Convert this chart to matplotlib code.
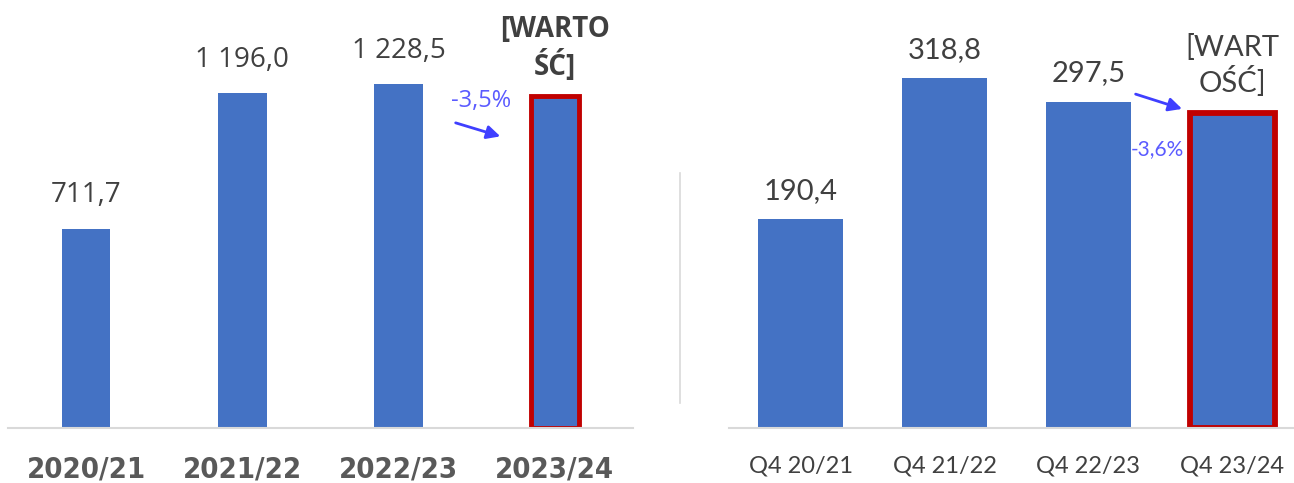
import matplotlib

matplotlib.use("Agg")
import matplotlib.pyplot as plt
from matplotlib.lines import Line2D

# annual values (left) and Q4 values (right)
years = ["2020/21", "2021/22", "2022/23", "2023/24"]
year_values = [711.7, 1196.0, 1228.5, 1185.5]
year_labels = ["711,7", "1 196,0", "1 228,5"]

quarters = ["Q4 20/21", "Q4 21/22", "Q4 22/23", "Q4 23/24"]
quarter_values = [190.4, 318.8, 297.5, 286.8]
quarter_labels = ["190,4", "318,8", "297,5"]

BLUE = "#4472C4"
RED = "#C00000"
GRID = "#d9d9d9"
TXT = "#404040"
ARROW = "#3F3FFF"
PCT = "#5B5BFF"

W, H = 1294, 483
fig = plt.figure(figsize=(W / 100, H / 100), dpi=100)

ax1 = fig.add_axes([8 / W, 55 / H, 625 / W, 428 / H])
ax2 = fig.add_axes([729 / W, 55 / H, 565 / W, 428 / H])

for ax in (ax1, ax2):
    for s in ("top", "right", "left"):
        ax.spines[s].set_visible(False)
    ax.spines["bottom"].set_color(GRID)
    ax.spines["bottom"].set_linewidth(1.5)
    ax.set_yticks([])
    ax.tick_params(axis="x", length=0)

# --- left chart
ax1.set_xlim(-0.5, 3.5)
ax1.set_ylim(0, 1529)
x1 = range(len(years))
ax1.bar(x1[:3], year_values[:3], width=0.31, color=BLUE, zorder=2)
ax1.bar(x1[3], year_values[3], width=0.31, color=BLUE, edgecolor=RED,
        linewidth=3.5, zorder=2)
for i, lab in enumerate(year_labels):
    ax1.annotate(lab, (i, year_values[i]), xytext=(0, 14), textcoords="offset points",
                 ha="center", va="bottom", fontsize=20, color=TXT, family="Open Sans")
ax1.text(3, 1357, "[WARTO\nŚĆ]", ha="center", va="center", fontsize=20,
         fontweight="bold", color=TXT, family="Open Sans", linespacing=1.25)
ax1.annotate("", xy=(2.668, 1039), xytext=(2.348, 1093),
             arrowprops=dict(arrowstyle="-|>", color=ARROW, lw=2, mutation_scale=20))
ax1.text(2.527, 1168, "-3,5%", ha="center", va="center", fontsize=17,
         color=PCT, family="Open Sans")
ax1.set_xticks(list(x1))
ax1.set_xticklabels(years, fontsize=21, fontweight="bold", color="#595959",
                    family="DejaVu Sans", fontstretch="condensed")
ax1.tick_params(axis="x", pad=20)

# --- right chart
ax2.set_xlim(-0.5, 3.43)
ax2.set_ylim(0, 390)
x2 = range(len(quarters))
ax2.bar(x2[:3], quarter_values[:3], width=0.59, color=BLUE, zorder=2)
ax2.bar(x2[3], quarter_values[3], width=0.59, color=BLUE, edgecolor=RED,
        linewidth=4.2, zorder=2)
for i, lab in enumerate(quarter_labels):
    ax2.annotate(lab, (i, quarter_values[i]), xytext=(0, 11), textcoords="offset points",
                 ha="center", va="bottom", fontsize=21, color=TXT, family="Lato")
ax2.text(3, 330, "[WART\nOŚĆ]", ha="center", va="center", fontsize=21,
         color=TXT, family="Lato", linespacing=1.2)
ax2.annotate("", xy=(2.67, 290), xytext=(2.31, 305),
             arrowprops=dict(arrowstyle="-|>", color=ARROW, lw=2, mutation_scale=20))
ax2.text(2.48, 254, "-3,6%", ha="center", va="center", fontsize=15,
         color=PCT, family="Lato")
ax2.set_xticks(list(x2))
ax2.set_xticklabels(quarters, fontsize=17, color=TXT, family="Lato")
ax2.tick_params(axis="x", pad=20)

# separator between charts
fig.add_artist(Line2D([680 / W, 680 / W], [1 - 403 / H, 1 - 173 / H],
                      transform=fig.transFigure, color=GRID, lw=1.2))

fig.savefig("out.png", dpi=100)
